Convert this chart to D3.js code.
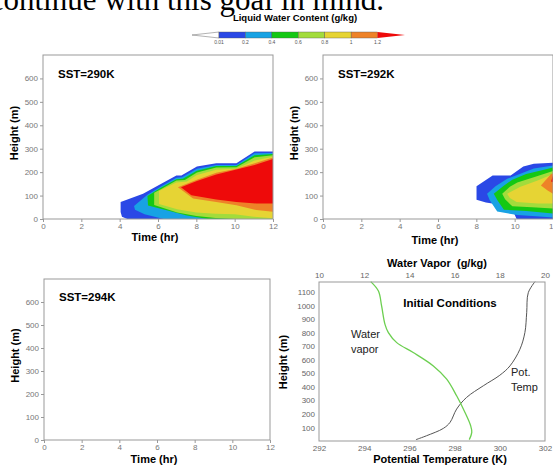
<!DOCTYPE html>
<html>
<head>
<meta charset="utf-8">
<script src="https://cdn.jsdelivr.net/npm/d3@7"></script>
<style>
  body { margin: 0; background: #fff; }
  svg { display: block; font-family: "Liberation Sans", Arial, sans-serif; }
</style>
</head>
<body>
<svg id="chart" width="553" height="467"></svg>
<script>
// Liquid water content levels + colours (colorbar)
const lwcLevels = [0.01, 0.2, 0.4, 0.6, 0.8, 1, 1.2];
const lwcColors = ["#2a48e6", "#18a2e4", "#14c814", "#a2dc3c", "#e6d434", "#ee8228", "#ee0a0a"];

// filled contour outlines, [time hr, height m], one per level (region above level)
const sst290 = [
  [[4.05,73],[5.22,108],[6.17,150],[6.96,186],[7.22,186],[8.03,224],[9.04,238],[10.09,238],[11.04,288],[12,288],[12,0],[4.4,0],[4.12,10],[4.05,30]],
  [[4.75,55],[5.45,104],[6.17,140],[6.96,176],[7.25,178],[8.03,214],[9.04,231],[10.09,231],[11.04,281],[12,282],[12,0],[6.3,0],[5.3,20],[4.8,40]],
  [[5.45,98],[6.17,134],[6.96,170],[7.3,172],[8.03,206],[9.04,226],[10.09,226],[11.04,272],[12,277],[12,0],[8.6,0],[7.5,15],[6.5,36],[5.48,58]],
  [[5.8,112],[6.17,128],[6.96,164],[7.4,166],[8.03,198],[9.04,220],[10.09,221],[11.04,264],[12,272],[12,0],[10,0],[9,4],[8,13],[7,28],[5.8,60]],
  [[6.05,120],[6.5,138],[6.96,156],[7.5,160],[8.03,188],[9.04,210],[10.09,214],[11.04,250],[12,266],[12,3],[11,10],[10,20],[9,22],[8,28],[7,42],[6.05,64]],
  [[7.04,136],[7.5,150],[8.03,168],[9.04,197],[10.09,215],[11.04,238],[12,262],[12,31],[11.13,38],[10.09,59],[9.04,73],[7.83,87]],
  [[7.2,136],[8.03,162],[9.04,190],[10.09,211],[11.04,231],[12,256],[12,66],[11.13,66],[10.09,73],[9.04,83],[7.74,101]]
];
const sst292 = [
  [[8.01,140],[8.85,186],[9.79,186],[10.45,224],[11,236],[12,240],[12,0],[10.1,0],[9.95,28],[9.18,34],[9.0,64],[8.5,70],[8.01,82]],
  [[8.56,108],[9.0,140],[9.61,172],[10.2,190],[11,216],[12,228],[12,6],[11.3,11],[10.14,17],[9.09,32],[8.7,80]],
  [[8.91,108],[9.4,140],[9.88,168],[10.6,192],[11.37,207],[12,220],[12,24],[10.6,34],[9.44,40],[9.1,80]],
  [[9.35,108],[9.75,138],[10.14,156],[11.2,184],[12,205],[12,45],[10.9,50],[9.88,54],[9.5,84]],
  [[9.61,108],[10.3,138],[11.2,164],[12,192],[12,66],[11.2,66],[10.1,73],[9.75,90]],
  [[11.37,143],[11.9,192],[12,194],[12,108],[11.72,122]],
  [[11.9,160],[12,186],[12,158]]
];
const sst294 = [];

const timeTicks = [0, 2, 4, 6, 8, 10, 12];
const heightTicks = [0, 100, 200, 300, 400, 500, 600];

// initial profiles: [value, height m]
const potTemp = [[296.29,10],[296.76,39],[297.5,93],[297.8,138],[298.09,236],[298.53,322],[299.27,408],[300.0,486],[300.45,555],[300.89,678],[301.11,801],[301.19,948],[301.26,1096],[301.56,1178]];
const waterVapor = [[16.65,10],[16.76,64],[16.71,113],[16.46,211],[16.09,334],[15.65,457],[15.06,555],[14.17,654],[13.44,727],[13.07,801],[12.92,862],[12.77,998],[12.63,1108],[12.29,1178]];
const thetaTicks = [292, 294, 296, 298, 300, 302];
const vaporTicks = [10, 12, 14, 16, 18, 20];
const profileHeightTicks = [100, 200, 300, 400, 500, 600, 700, 800, 900, 1000, 1100];

const svg = d3.select("#chart");

// cropped slide text at the top
svg.append("text")
  .attr("x", 384).attr("y", 10)
  .attr("text-anchor", "end")
  .attr("font-family", "Liberation Serif, Times New Roman, serif")
  .attr("font-size", 31)
  .text("continue with this goal in mind.");

/*
 * Colorbar
 */
function drawColorbar() {
  const x = d3.scaleLinear().domain([0, lwcLevels.length]).range([219, 404]);
  const g = svg.append("g");
  const y0 = 32, y1 = 38, ym = 35;
  g.append("text")
    .attr("x", 295).attr("y", 21)
    .attr("text-anchor", "middle")
    .attr("font-weight", "bold").attr("font-size", 9.5)
    .text("Liquid Water Content (g/kg)");
  // open end (below 0.01)
  g.append("path")
    .attr("d", `M${x(0)},${y0}L192,${ym}L${x(0)},${y1}Z`)
    .attr("fill", "#fff").attr("stroke", "#666").attr("stroke-width", 0.5);
  g.selectAll("rect.cb")
    .data(lwcColors.slice(0, -1))
    .enter().append("rect")
    .attr("x", (d, i) => x(i)).attr("y", y0)
    .attr("width", x(1) - x(0)).attr("height", y1 - y0)
    .attr("fill", d => d)
    .attr("stroke", "#555").attr("stroke-width", 0.4);
  const n = lwcLevels.length - 1;
  g.append("path")
    .attr("d", `M${x(n)},${y0}L405,${ym}L${x(n)},${y1}Z`)
    .attr("fill", lwcColors[n]);
  g.selectAll("text.cbl")
    .data(lwcLevels)
    .enter().append("text")
    .attr("x", (d, i) => x(i)).attr("y", 43.5)
    .attr("text-anchor", "middle")
    .attr("font-size", 5).attr("fill", "#555")
    .text(d => d);
}

/*
 * LWC time-height panel
 */
function drawLwcPanel(o) {
  const x = d3.scaleLinear().domain([0, 12]).range([o.x0, o.x1]);
  const y = d3.scaleLinear().domain([0, 700]).range([o.y1, o.y0]);
  const g = svg.append("g");
  const clipId = "clip" + o.id;
  g.append("clipPath").attr("id", clipId)
    .append("rect").attr("x", o.x0).attr("y", o.y0)
    .attr("width", o.x1 - o.x0).attr("height", o.y1 - o.y0);

  const line = d3.line().x(d => x(d[0])).y(d => y(d[1]));
  g.append("g").attr("clip-path", `url(#${clipId})`)
    .selectAll("path")
    .data(o.data)
    .enter().append("path")
    .attr("d", d => line(d) + "Z")
    .attr("fill", (d, i) => lwcColors[i]);

  g.append("rect")
    .attr("x", o.x0).attr("y", o.y0)
    .attr("width", o.x1 - o.x0).attr("height", o.y1 - o.y0)
    .attr("fill", "none").attr("stroke", "#999").attr("stroke-width", 1);

  const ax = g.append("g").attr("transform", `translate(0,${o.y1})`)
    .call(d3.axisBottom(x).tickValues(timeTicks).tickSize(3).tickPadding(1));
  const ay = g.append("g").attr("transform", `translate(${o.x0},0)`)
    .call(d3.axisLeft(y).tickValues(heightTicks).tickSize(3).tickPadding(2));
  [ax, ay].forEach(a => {
    a.select(".domain").remove();
    a.selectAll("line").attr("stroke", "#999");
    a.selectAll("text").attr("font-size", 8).attr("fill", "#777")
      .attr("font-family", "Liberation Sans, Arial, sans-serif");
  });

  g.append("text")
    .attr("x", o.x0 + 15).attr("y", y(620) + 4)
    .attr("font-weight", "bold").attr("font-size", 11.5)
    .text(o.label);
  g.append("text")
    .attr("x", (o.x0 + o.x1) / 2 - 3).attr("y", o.y1 + o.tdy)
    .attr("text-anchor", "middle")
    .attr("font-weight", "bold").attr("font-size", 11)
    .text("Time (hr)");
  g.append("text")
    .attr("transform", `translate(${o.x0 - 25},${(o.y0 + o.y1) / 2 - 4}) rotate(-90)`)
    .attr("text-anchor", "middle")
    .attr("font-weight", "bold").attr("font-size", 11)
    .text("Height (m)");
}

/*
 * Initial conditions panel
 */
function drawProfiles() {
  const x0 = 319, x1 = 545, y0 = 282, y1 = 441;
  const xt = d3.scaleLinear().domain([292, 302]).range([x0, x1]);
  const xq = d3.scaleLinear().domain([10, 20]).range([x0, x1]);
  const y = d3.scaleLinear().domain([0, 1175]).range([y1, y0]);
  const g = svg.append("g");

  const lt = d3.line().curve(d3.curveCatmullRom).x(d => xt(d[0])).y(d => y(d[1]));
  const lq = d3.line().curve(d3.curveCatmullRom).x(d => xq(d[0])).y(d => y(d[1]));
  g.append("path").attr("d", lt(potTemp))
    .attr("fill", "none").attr("stroke", "#555").attr("stroke-width", 1);
  g.append("path").attr("d", lq(waterVapor))
    .attr("fill", "none").attr("stroke", "#6ccf50").attr("stroke-width", 1.3);

  g.append("rect")
    .attr("x", x0).attr("y", y0).attr("width", x1 - x0).attr("height", y1 - y0)
    .attr("fill", "none").attr("stroke", "#999").attr("stroke-width", 1);

  const ab = g.append("g").attr("transform", `translate(0,${y1})`)
    .call(d3.axisBottom(xt).tickValues(thetaTicks).tickSize(0).tickPadding(4));
  const at = g.append("g").attr("transform", `translate(0,${y0})`)
    .call(d3.axisTop(xq).tickValues(vaporTicks).tickSize(0).tickPadding(4));
  const al = g.append("g").attr("transform", `translate(${x0},0)`)
    .call(d3.axisLeft(y).tickValues(profileHeightTicks).tickFormat(d3.format("d")).tickSize(0).tickPadding(4));
  [ab, at, al].forEach(a => {
    a.select(".domain").remove();
    a.selectAll("text").attr("font-size", 8).attr("fill", "#666")
      .attr("font-family", "Liberation Sans, Arial, sans-serif");
  });

  g.append("text").attr("x", 437).attr("y", 267)
    .attr("text-anchor", "middle").attr("font-weight", "bold").attr("font-size", 11)
    .style("white-space", "pre")
    .text("Water Vapor  (g/kg)");
  g.append("text").attr("x", 440).attr("y", 463)
    .attr("text-anchor", "middle").attr("font-weight", "bold").attr("font-size", 11)
    .text("Potential Temperature (K)");
  g.append("text").attr("x", 450).attr("y", 307)
    .attr("text-anchor", "middle").attr("font-weight", "bold").attr("font-size", 11.5)
    .text("Initial Conditions");
  g.append("text")
    .attr("transform", `translate(287,362) rotate(-90)`)
    .attr("text-anchor", "middle").attr("font-weight", "bold").attr("font-size", 11)
    .text("Height (m)");

  [["Water", 351, 338], ["vapor", 351, 353], ["Pot.", 511, 376], ["Temp", 511, 391]].forEach(t => {
    g.append("text").attr("x", t[1]).attr("y", t[2])
      .attr("font-size", 11).attr("fill", "#222")
      .text(t[0]);
  });
}

drawColorbar();
drawLwcPanel({ id: 1, x0: 43, x1: 273, y0: 55, y1: 219, data: sst290, label: "SST=290K", tdy: 22 });
drawLwcPanel({ id: 2, x0: 323, x1: 553, y0: 55, y1: 219, data: sst292, label: "SST=292K", tdy: 25 });
drawLwcPanel({ id: 3, x0: 44, x1: 270, y0: 279, y1: 440, data: sst294, label: "SST=294K", tdy: 23 });
drawProfiles();
</script>
</body>
</html>
